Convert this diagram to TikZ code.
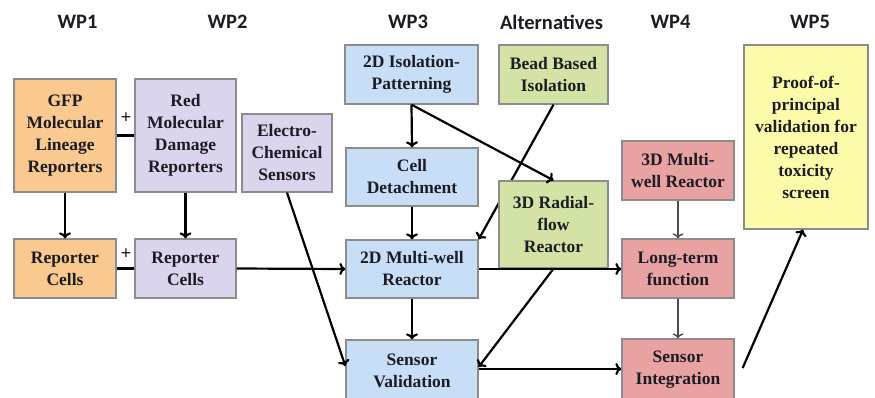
\documentclass[tikz,border=0pt]{standalone}
\usepackage{fontspec}
\setmainfont{Liberation Serif}
\newfontfamily\hdrfont{Carlito}
\usetikzlibrary{arrows.meta,backgrounds}
\definecolor{cOrange}{HTML}{F9C98F}
\definecolor{cPurple}{HTML}{DCD3EC}
\definecolor{cBlue}{HTML}{C7DEF6}
\definecolor{cGreen}{HTML}{D3E2A5}
\definecolor{cRed}{HTML}{E8A2A2}
\definecolor{cYellow}{HTML}{FBFBAA}
\definecolor{cBorder}{HTML}{8C8C8C}
\definecolor{cText}{HTML}{1C1C24}
\begin{document}
\begin{tikzpicture}[x=1pt,y=-1pt,
  wpbox/.style={draw=cBorder,line width=1.3pt,inner sep=0pt,align=center,
    text=cText,font=\fontsize{17.5}{22}\selectfont\bfseries},
  hdr/.style={font=\hdrfont\fontsize{20.5}{24}\selectfont\bfseries,text=cText,inner sep=0pt},
  plus/.style={font=\fontsize{19}{19}\selectfont\bfseries,text=cText,inner sep=0pt},
  arr/.style={line width=2.2pt,-{To[length=6pt,width=12pt]}},
  link/.style={line width=2.2pt},
  thinarr/.style={line width=1.4pt,draw=black!70,-{To[length=5pt,width=11pt]}}]
\clip (0,0) rectangle (875,397);
\fill[white] (0,0) rectangle (875,397);
% headers
\node[hdr] (h1) at (77.5,22) {WP1};
\node[hdr] (h2) at (227.5,22) {WP2};
\node[hdr] (h3) at (408,22) {WP3};
\node[hdr] (h4) at (551.5,22) {Alternatives};
\node[hdr] (h5) at (670.5,22) {WP4};
\node[hdr] (h6) at (810,22) {WP5};
% boxes
\node[wpbox,fill=cOrange,minimum width=102pt,minimum height=113pt] (gfp) at (65,135.5) {GFP\\Molecular\\Lineage\\Reporters};
\node[wpbox,fill=cPurple,minimum width=101pt,minimum height=113pt] (red) at (185.5,135.5) {Red\\Molecular\\Damage\\Reporters};
\node[wpbox,fill=cPurple,minimum width=90pt,minimum height=78pt] (ele) at (287,153) {Electro-\\Chemical\\Sensors};
\node[wpbox,fill=cOrange,minimum width=102pt,minimum height=59pt] (rc1) at (65,268.5) {Reporter\\Cells};
\node[wpbox,fill=cPurple,minimum width=101pt,minimum height=59pt] (rc2) at (185.5,268.5) {Reporter\\Cells};
\node[wpbox,fill=cBlue,minimum width=133pt,minimum height=59pt] (iso) at (411.5,74.5) {2D Isolation-\\Patterning};
\node[wpbox,fill=cGreen,minimum width=109pt,minimum height=59pt] (bead) at (553.5,74.5) {Bead Based\\Isolation};
\node[wpbox,fill=cBlue,minimum width=132pt,minimum height=58pt] (det) at (412,177) {Cell\\Detachment};
\node[wpbox,fill=cBlue,minimum width=132pt,minimum height=58pt] (mw2) at (412,269) {2D Multi-well\\Reactor};
% bead -> 2D multi-well, passing behind the radial-flow box
\draw[arr] (bead.south) -- (mw2.north east);
\node[wpbox,fill=cGreen,minimum width=109pt,minimum height=87pt] (rad) at (553.5,224.5) {3D Radial-\\flow\\Reactor};
\node[wpbox,fill=cBlue,minimum width=132pt,minimum height=62pt] (sv) at (412,371) {Sensor\\Validation};
\node[wpbox,fill=cRed,minimum width=112pt,minimum height=59pt] (mw3) at (678,170.5) {3D Multi-\\well Reactor};
\node[wpbox,fill=cRed,minimum width=112pt,minimum height=59pt] (lt) at (678,268.5) {Long-term\\function};
\node[wpbox,fill=cRed,minimum width=112pt,minimum height=62pt] (si) at (678,370) {Sensor\\Integration};
\node[wpbox,fill=cYellow,minimum width=124pt,minimum height=184pt] (proof) at (806,137) {Proof-of-\\principal\\validation for\\repeated\\toxicity\\screen};
% plus signs
\node[plus] (p1) at (126,118) {+};
\node[plus] (p2) at (126,254) {+};
% connectors
\draw[link] (gfp.east) -- (red.west);
\draw[link] (rc1.east) -- (rc2.west);
\draw[arr] (gfp.south) -- (rc1.north);
\draw[arr] (red.south) -- (rc2.north);
\draw[arr] (rc2.east) -- (mw2.west);
\draw[arr] (ele.south) -- ([yshift=5pt]sv.west);
\draw[arr] (iso.south) -- (det.north);
\draw[arr] (iso.south) -- (rad.north);
\draw[arr] (det.south) -- (mw2.north);
\draw[arr] (mw2.east) -- (mw2.east -| lt.west);
\draw[arr] (mw2.south) -- (sv.north);
\draw[arr] (rad.south) -- ([yshift=4pt]sv.east);
\draw[arr] ([yshift=2pt]sv.east) -- ([yshift=2pt]sv.east -| si.west);
\draw[thinarr] (mw3.south) -- (lt.north);
\draw[thinarr] (lt.south) -- (si.north);
\coordinate (siout) at ([xshift=8pt,yshift=2pt]si.east);
\draw[arr] (siout) -- ([xshift=-3pt]proof.south);
\end{tikzpicture}
\end{document}
